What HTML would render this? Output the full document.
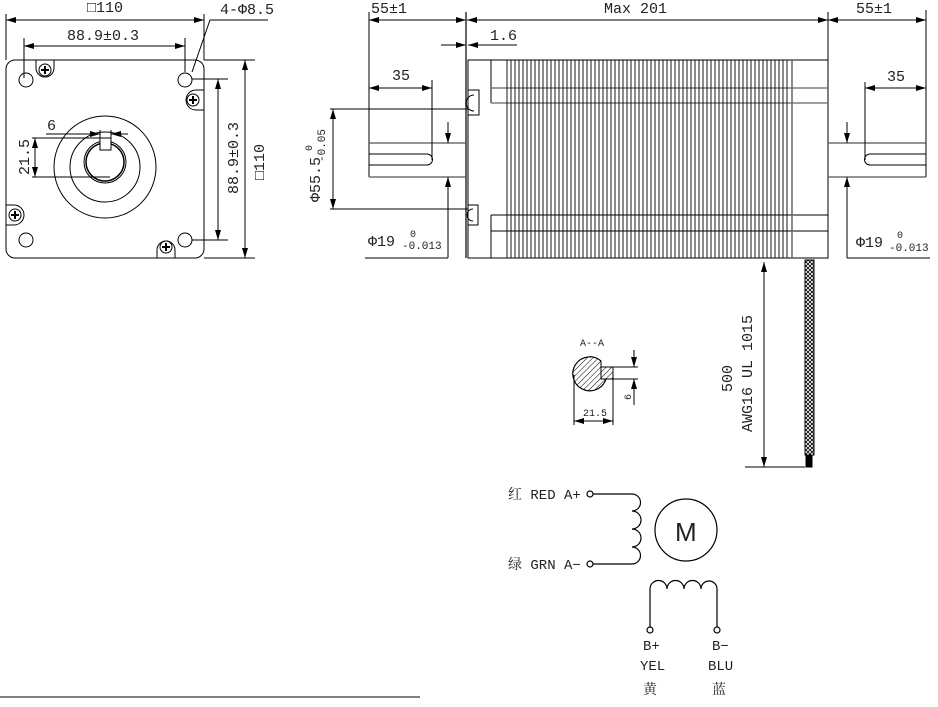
<!DOCTYPE html>
<html><head><meta charset="utf-8"><style>
html,body{margin:0;padding:0;background:#fff;}
svg{display:block;}
text{font-family:"Liberation Mono","Noto Serif CJK SC","Noto Sans CJK SC",monospace;fill:#222;}
</style></head><body>
<svg width="938" height="707" viewBox="0 0 938 707" xmlns="http://www.w3.org/2000/svg">
<defs>
<marker id="a" viewBox="0 0 10 6" refX="10" refY="3" markerWidth="10" markerHeight="6" orient="auto-start-reverse" markerUnits="userSpaceOnUse"><path d="M0,0L10,3L0,6z" fill="#000"/></marker>
<pattern id="h" width="4" height="4" patternUnits="userSpaceOnUse" patternTransform="rotate(45)"><line x1="0" y1="0" x2="0" y2="4" stroke="#000" stroke-width="1"/></pattern>
<pattern id="x" width="4" height="4" patternUnits="userSpaceOnUse"><path d="M0,0L4,4M4,0L0,4" stroke="#000" stroke-width="0.8"/></pattern>
</defs>
<g fill="none" stroke="#000" stroke-width="1">
<!-- FRONT VIEW -->
<rect x="6" y="60" width="198" height="198" rx="9"/>
<circle cx="26" cy="80" r="7"/><circle cx="185" cy="80" r="7"/><circle cx="26" cy="240" r="7"/><circle cx="185" cy="240" r="7"/>
<path d="M36,60 v8 a9,9 0 0 0 18,0 v-8"/><circle cx="45" cy="70" r="6"/><path d="M41,70h8M45,66v8" stroke-width="2"/>
<path d="M204,90 h-8 a9,9 0 0 0 0,20 h8"/><circle cx="193" cy="100" r="6"/><path d="M189,100h8M193,96v8" stroke-width="2"/>
<path d="M6,205 h8 a9,9 0 0 1 0,20 h-8"/><circle cx="15" cy="215" r="6"/><path d="M11,215h8M15,211v8" stroke-width="2"/>
<path d="M157,258 v-8 a9,9 0 0 1 18,0 v8"/><circle cx="166" cy="247" r="6"/><path d="M162,247h8M166,243v8" stroke-width="2"/>
<circle cx="105" cy="167" r="51"/><circle cx="105" cy="167" r="35"/>
<circle cx="105" cy="162" r="21"/><circle cx="105" cy="162" r="19" stroke-width="1.5"/>
<rect x="100" y="138" width="11" height="12" fill="#fff"/>
<line x1="6" y1="14" x2="6" y2="60"/><line x1="204" y1="14" x2="204" y2="60"/>
<line x1="6" y1="20" x2="204" y2="20" marker-start="url(#a)" marker-end="url(#a)"/>
<line x1="24" y1="38" x2="24" y2="78"/><line x1="185" y1="38" x2="185" y2="72"/>
<line x1="24" y1="46" x2="185" y2="46" marker-start="url(#a)" marker-end="url(#a)"/>
<path d="M192,72 L210,20 H268"/>
<line x1="192" y1="79" x2="228" y2="79"/><line x1="192" y1="240" x2="228" y2="240"/>
<line x1="218" y1="79" x2="218" y2="240" marker-start="url(#a)" marker-end="url(#a)"/>
<line x1="204" y1="60" x2="255" y2="60"/><line x1="204" y1="258" x2="255" y2="258"/>
<line x1="245" y1="60" x2="245" y2="258" marker-start="url(#a)" marker-end="url(#a)"/>
<line x1="46" y1="134" x2="100" y2="134" marker-end="url(#a)"/><line x1="111" y1="134" x2="128" y2="134" marker-start="url(#a)"/>
<line x1="100" y1="130" x2="100" y2="140"/><line x1="111" y1="130" x2="111" y2="140"/>
<line x1="32" y1="138" x2="100" y2="138"/><line x1="32" y1="177" x2="110" y2="177"/>
<line x1="35" y1="138" x2="35" y2="177" marker-start="url(#a)" marker-end="url(#a)"/>
</g>
<g font-size="15">
<text x="87" y="12">□110</text>
<text x="220" y="14">4-Φ8.5</text>
<text x="67" y="40">88.9±0.3</text>
<text x="47" y="130">6</text>
<text transform="translate(29,175) rotate(-90)">21.5</text>
<text transform="translate(238,194) rotate(-90)">88.9±0.3</text>
<text transform="translate(264,180) rotate(-90)">□110</text>
</g>

<!-- SIDE VIEW -->
<g fill="none" stroke="#000" stroke-width="1">
<line x1="369" y1="12" x2="369" y2="177"/>
<line x1="466" y1="12" x2="466" y2="258" stroke="#666" stroke-width="2"/>
<line x1="828" y1="12" x2="828" y2="258"/>
<line x1="926" y1="10" x2="926" y2="177"/>
<line x1="369" y1="20" x2="466" y2="20" marker-start="url(#a)" marker-end="url(#a)"/>
<line x1="467" y1="20" x2="828" y2="20" marker-start="url(#a)" marker-end="url(#a)"/>
<line x1="828" y1="20" x2="926" y2="20" marker-start="url(#a)" marker-end="url(#a)"/>
<line x1="441" y1="45" x2="466" y2="45" marker-end="url(#a)"/><line x1="468" y1="45" x2="517" y2="45" marker-start="url(#a)"/>
<rect x="468" y="60" width="360" height="198"/>
<line x1="491" y1="60" x2="491" y2="103"/><line x1="491" y1="215" x2="491" y2="258"/>
<line x1="491" y1="103" x2="828" y2="103" stroke="#666" stroke-width="1.3"/>
<line x1="491" y1="88" x2="828" y2="88" stroke="#666" stroke-width="1.3"/>
<line x1="491" y1="215" x2="828" y2="215"/>
<line x1="491" y1="231" x2="828" y2="231"/>
<path d="M468,90h11v25h-11M474,95a8,8 0 0 0 0,16" /><path d="M468,205h10v20h-10M473,209a6,6 0 0 0 0,12"/>
<line x1="792" y1="60" x2="792" y2="258" stroke="#666" stroke-width="1.5"/>
<path stroke-width="0.9" d="M507,60v198M511,60v198M515,60v198M519,60v198M523,60v198M527,60v198M531,60v198M535,60v198M539,60v198M543,60v198M547,60v198M551,60v198M555,60v198M559,60v198M563,60v198M567,60v198M571,60v198M575,60v198M579,60v198M583,60v198M587,60v198M591,60v198M595,60v198M599,60v198M603,60v198M607,60v198M611,60v198M615,60v198M619,60v198M623,60v198M627,60v198M631,60v198M635,60v198M639,60v198M643,60v198M647,60v198M651,60v198M655,60v198M659,60v198M663,60v198M667,60v198M671,60v198M675,60v198M679,60v198M683,60v198M687,60v198M691,60v198M695,60v198M699,60v198M703,60v198M707,60v198M711,60v198M715,60v198M719,60v198M723,60v198M727,60v198M731,60v198M735,60v198M739,60v198M743,60v198M747,60v198M751,60v198M755,60v198M759,60v198M763,60v198M767,60v198M771,60v198M775,60v198M779,60v198M783,60v198M787,60v198"/>
<!-- left shaft -->
<path d="M369,143 H466 M369,177 H466" stroke="#555" stroke-width="1.2"/>
<path d="M369,154 H427 a5.5,5.5 0 0 1 0,11 H369"/>
<line x1="432" y1="80" x2="432" y2="160"/>
<line x1="369" y1="88" x2="432" y2="88" marker-start="url(#a)" marker-end="url(#a)"/>
<line x1="330" y1="109" x2="468" y2="109"/><line x1="330" y1="209" x2="468" y2="209"/>
<line x1="333" y1="109" x2="333" y2="209" marker-start="url(#a)" marker-end="url(#a)"/>
<line x1="448" y1="122" x2="448" y2="143" marker-end="url(#a)"/><line x1="448" y1="177" x2="448" y2="258" marker-start="url(#a)"/>
<line x1="365" y1="258" x2="448" y2="258"/>
<!-- right shaft -->
<path d="M828,143 H926 M828,177 H926" stroke="#555" stroke-width="1.2"/>
<path d="M926,154 H870 a5.5,5.5 0 0 0 0,11 H926"/>
<line x1="865" y1="82" x2="865" y2="160"/>
<line x1="865" y1="88" x2="926" y2="88" marker-start="url(#a)" marker-end="url(#a)"/>
<line x1="847" y1="122" x2="847" y2="143" marker-end="url(#a)"/><line x1="847" y1="177" x2="847" y2="258" marker-start="url(#a)"/>
<line x1="847" y1="258" x2="930" y2="258"/>
<!-- cable -->
<rect x="805" y="260" width="9" height="195" fill="url(#x)"/>
<rect x="806" y="455" width="6" height="12" fill="#000"/>
<line x1="764" y1="262" x2="764" y2="467" marker-start="url(#a)" marker-end="url(#a)"/>
<line x1="745" y1="467" x2="805" y2="467"/>
<!-- A-A -->
<path d="M601,367 L601,379 L606,379 A17,17 0 1 1 601,361 Z" fill="url(#h)"/>
<path d="M606,379 A17,17 0 1 1 601,361"/>
<rect x="601" y="367" width="12" height="12" fill="url(#h)"/>
<line x1="613" y1="367" x2="638" y2="367"/><line x1="613" y1="379" x2="638" y2="379"/>
<line x1="634" y1="350" x2="634" y2="367" marker-end="url(#a)"/><line x1="634" y1="379" x2="634" y2="405" marker-start="url(#a)"/>
<line x1="574" y1="375" x2="574" y2="425"/><line x1="613" y1="379" x2="613" y2="425"/>
<line x1="574" y1="421" x2="613" y2="421" marker-start="url(#a)" marker-end="url(#a)"/>
</g>
<g font-size="15">
<text x="371" y="13">55±1</text>
<text x="604" y="13">Max 201</text>
<text x="856" y="13">55±1</text>
<text x="490" y="40">1.6</text>
<text x="392" y="80">35</text>
<text x="887" y="81">35</text>
<text x="368" y="246">Φ19</text><text x="410" y="237" font-size="10">0</text><text x="402" y="249" font-size="11">-0.013</text>
<text x="856" y="247">Φ19</text><text x="897" y="238" font-size="10">0</text><text x="889" y="251" font-size="11">-0.013</text>
<text transform="translate(320,202) rotate(-90)">Φ55.5</text>
<text transform="translate(312,151) rotate(-90)" font-size="10">0</text>
<text transform="translate(325,162) rotate(-90)" font-size="11">-0.05</text>
<text transform="translate(732,392) rotate(-90)">500</text>
<text transform="translate(752,432) rotate(-90)">AWG16 UL 1015</text>
<text x="580" y="346" font-size="10">A--A</text>
<text x="583" y="416" font-size="10">21.5</text>
<text transform="translate(631,400) rotate(-90)" font-size="10">6</text>
</g>
<!-- wiring -->
<g fill="none" stroke="#000" stroke-width="1.2">
<circle cx="590" cy="494" r="3"/><circle cx="590" cy="564" r="3"/>
<path d="M593,494 H632 a8,8 0 0 1 0,17 a8,8 0 0 1 0,18 a8,8 0 0 1 0,18 a8,8 0 0 1 0,17 H593"/>
<circle cx="686" cy="530" r="31"/>
<path d="M650,627 V589 a8.5,8.5 0 0 1 17,0 a8.5,8.5 0 0 1 17,0 a8.5,8.5 0 0 1 17,0 a8,8 0 0 1 16,0 V627"/>
<circle cx="650" cy="630" r="3"/><circle cx="717" cy="630" r="3"/>
</g>
<text x="675" y="541" font-size="26" font-family="Liberation Sans" style="font-family:'Liberation Sans',sans-serif">M</text>
<g font-size="14">
<text x="508" y="499">红 RED A+</text>
<text x="508" y="569">绿 GRN A−</text>
<text x="643" y="650">B+</text><text x="640" y="670">YEL</text><text x="643" y="694">黄</text>
<text x="712" y="650">B−</text><text x="708" y="670">BLU</text><text x="712" y="694">蓝</text>
</g>
<line x1="0" y1="697" x2="420" y2="697" stroke="#000" stroke-width="1"/>
</svg>
</body></html>
